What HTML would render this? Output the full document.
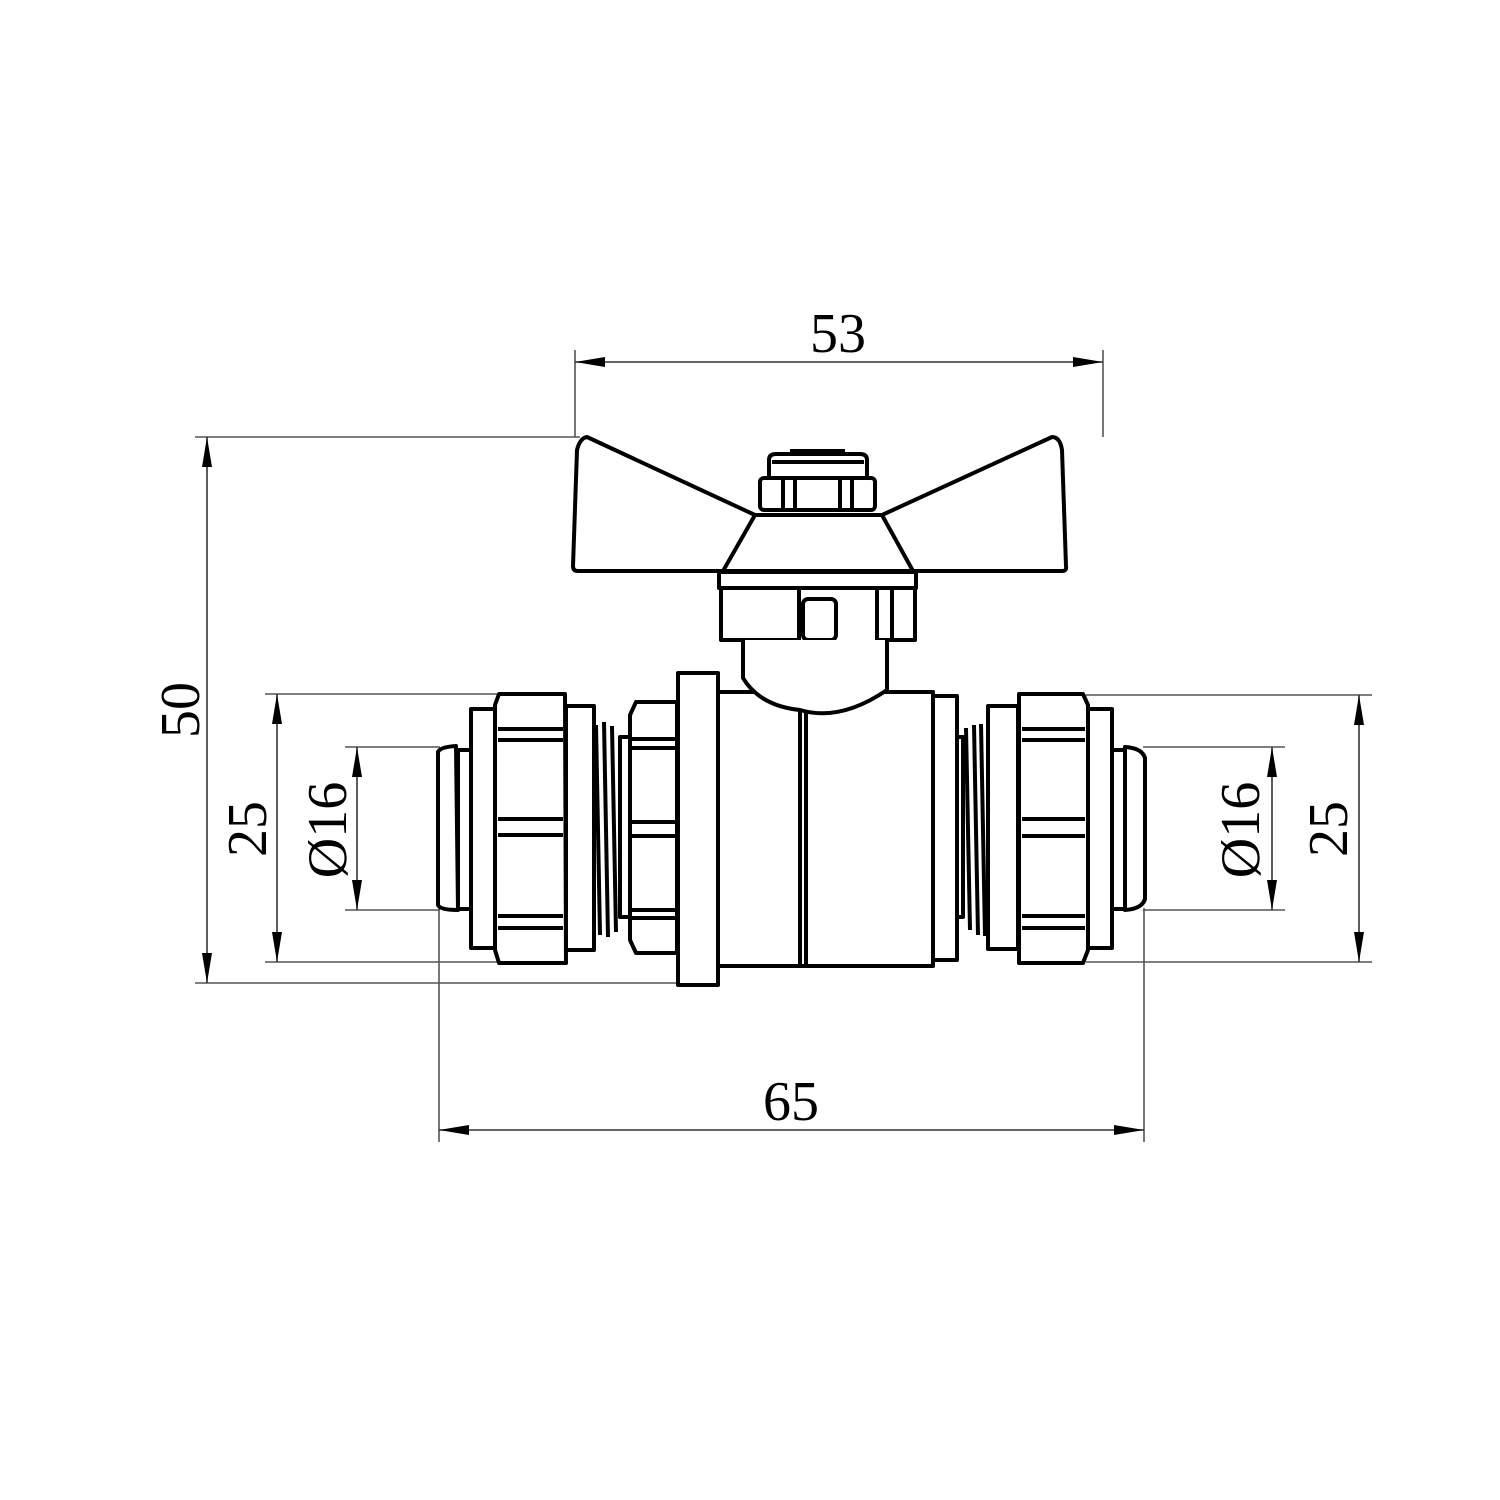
<!DOCTYPE html>
<html><head><meta charset="utf-8"><style>html,body{margin:0;padding:0;background:#fff}svg{display:block}</style></head>
<body>
<svg width="1500" height="1500" viewBox="0 0 1500 1500" xmlns="http://www.w3.org/2000/svg">
<defs>
<marker id="a" viewBox="0 0 30 10" refX="30" refY="5" markerWidth="30" markerHeight="10" markerUnits="userSpaceOnUse" orient="auto-start-reverse"><path d="M0,0 L30,5 L0,10 z" fill="#000"/></marker>
</defs>
<g stroke="#555" stroke-width="1.6" fill="none">
<!-- 53 -->
<line x1="575" y1="350" x2="575" y2="437"/><line x1="1103" y1="350" x2="1103" y2="437"/>
<line x1="575" y1="362" x2="1103" y2="362" marker-start="url(#a)" marker-end="url(#a)" stroke="#333"/>
<!-- 50 -->
<line x1="195" y1="437" x2="580" y2="437"/><line x1="195" y1="983" x2="678" y2="983"/>
<line x1="207" y1="437" x2="207" y2="983" marker-start="url(#a)" marker-end="url(#a)" stroke="#333"/>
<!-- left 25 -->
<line x1="265" y1="694" x2="497" y2="694"/><line x1="265" y1="962" x2="497" y2="962"/>
<line x1="277" y1="694" x2="277" y2="962" marker-start="url(#a)" marker-end="url(#a)" stroke="#333"/>
<!-- left d16 -->
<line x1="345" y1="747" x2="440" y2="747"/><line x1="345" y1="910" x2="440" y2="910"/>
<line x1="357" y1="747" x2="357" y2="910" marker-start="url(#a)" marker-end="url(#a)" stroke="#333"/>
<!-- right d16 -->
<line x1="1143" y1="747" x2="1285" y2="747"/><line x1="1143" y1="910" x2="1285" y2="910"/>
<line x1="1272" y1="747" x2="1272" y2="910" marker-start="url(#a)" marker-end="url(#a)" stroke="#333"/>
<!-- right 25 -->
<line x1="1086" y1="695" x2="1372" y2="695"/><line x1="1086" y1="962" x2="1372" y2="962"/>
<line x1="1359" y1="695" x2="1359" y2="962" marker-start="url(#a)" marker-end="url(#a)" stroke="#333"/>
<!-- 65 -->
<line x1="439" y1="908" x2="439" y2="1142"/><line x1="1144" y1="908" x2="1144" y2="1142"/>
<line x1="439" y1="1130" x2="1144" y2="1130" marker-start="url(#a)" marker-end="url(#a)" stroke="#333"/>
</g>
<g font-family="Liberation Serif, serif" font-size="56" fill="#000" text-anchor="middle">
<text x="838" y="352">53</text>
<text x="791" y="1120">65</text>
<text transform="translate(199,710) rotate(-90)">50</text>
<text transform="translate(266,829) rotate(-90)">25</text>
<text transform="translate(346,830) rotate(-90)">Ø16</text>
<text transform="translate(1259,830) rotate(-90)">Ø16</text>
<text transform="translate(1347,829) rotate(-90)">25</text>
</g>
<g stroke="#000" stroke-width="4" fill="none" stroke-linejoin="round">
<!-- handle -->
<path d="M587,437 Q580,438 577,450 L573,566 Q573,571 578,571 L1062,571 Q1067,571 1066,566 L1062,450 Q1060,437 1052,437 L882,515 L755,515 Z" fill="#fff"/>
<path d="M755,515 L723,571 M882,515 L913,571 M755,515 L882,515"/>
<rect x="760" y="478" width="115" height="32" rx="4" fill="#fff"/>
<line x1="783" y1="480" x2="783" y2="510"/><line x1="795" y1="480" x2="795" y2="510"/>
<line x1="840" y1="480" x2="840" y2="510"/><line x1="852" y1="480" x2="852" y2="510"/>
<path d="M769,478 L769,460 Q769,454 776,454 L860,454 Q867,454 867,460 L867,478"/>
<line x1="772" y1="462" x2="864" y2="462"/><line x1="790" y1="451" x2="845" y2="451"/>
<rect x="719" y="572" width="197" height="16" fill="#fff"/>
<rect x="721" y="588" width="78" height="52" fill="#fff"/>
<rect x="803" y="599" width="33" height="41" rx="5" fill="#fff"/>
<rect x="877" y="588" width="38" height="52" fill="#fff"/><line x1="892" y1="588" x2="892" y2="640"/>
<!-- body -->
<rect x="718" y="692" width="215" height="274" fill="#fff"/>
<line x1="800" y1="700" x2="800" y2="966"/><line x1="806" y1="702" x2="806" y2="966"/>
<path d="M743,640 L743,678 Q760,706 800,710 Q840,722 887,690 L887,640" fill="#fff"/>
<rect x="933" y="696" width="24" height="264" fill="#fff"/>
<rect x="678" y="673" width="40" height="312" fill="#fff"/>
<!-- left fitting -->
<path d="M438,752 Q440,747 456,746 L458,910 Q440,910 438,905 Z" fill="#fff"/>
<rect x="458" y="750" width="13" height="159" fill="#fff"/>
<rect x="471" y="709" width="25" height="239" fill="#fff"/>
<path d="M499,694 L565,694 L566,963 L499,963 L495,950 L495,705 Z" fill="#fff"/>
<line x1="498" y1="729" x2="563" y2="729"/><line x1="498" y1="740" x2="563" y2="740"/>
<line x1="498" y1="819" x2="563" y2="819"/><line x1="498" y1="835" x2="563" y2="835"/>
<line x1="498" y1="916" x2="563" y2="916"/><line x1="498" y1="928" x2="563" y2="928"/>
<rect x="566" y="706" width="28" height="244" fill="#fff"/>
<path d="M596,725 L600,935 M604,722 L608,937 M612,726 L616,932"/>
<rect x="620" y="737" width="12" height="180" fill="#fff"/>
<path d="M636,702 L677,702 L677,953 L636,953 L630,940 L630,715 Z" fill="#fff"/>
<line x1="632" y1="739" x2="676" y2="739"/><line x1="632" y1="748" x2="676" y2="748"/>
<line x1="632" y1="822" x2="676" y2="822"/><line x1="632" y1="836" x2="676" y2="836"/>
<line x1="632" y1="910" x2="676" y2="910"/><line x1="632" y1="918" x2="676" y2="918"/>
<!-- right fitting -->
<rect x="957" y="737" width="6" height="180" fill="#fff"/>
<path d="M966,728 L970,930 M974,725 L978,935 M981,724 L985,936"/>
<rect x="988" y="706" width="30" height="243" fill="#fff"/>
<path d="M1019,694 L1083,694 L1088,705 L1088,950 L1083,963 L1019,963 Z" fill="#fff"/>
<line x1="1022" y1="729" x2="1085" y2="729"/><line x1="1022" y1="740" x2="1085" y2="740"/>
<line x1="1022" y1="819" x2="1085" y2="819"/><line x1="1022" y1="836" x2="1085" y2="836"/>
<line x1="1022" y1="916" x2="1085" y2="916"/><line x1="1022" y1="928" x2="1085" y2="928"/>
<rect x="1088" y="709" width="24" height="239" fill="#fff"/>
<rect x="1112" y="750" width="13" height="159" fill="#fff"/>
<path d="M1125,747 Q1142,748 1145,758 L1145,899 Q1142,909 1125,910 Z" fill="#fff"/>
</g>
</svg>
</body></html>
